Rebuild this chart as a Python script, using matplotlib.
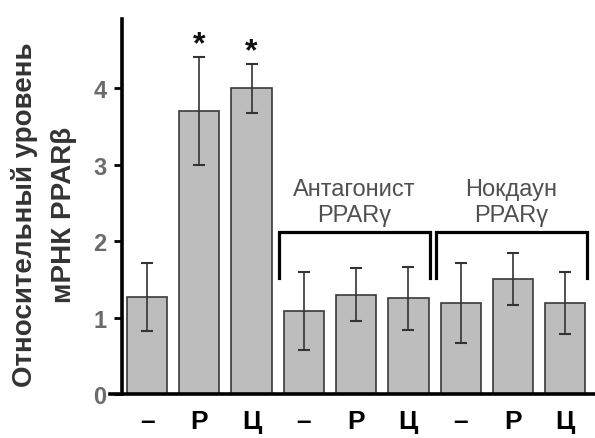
import matplotlib.pyplot as plt
import numpy as np

plt.rcParams['font.family'] = ['Liberation Sans', 'DejaVu Sans']

# values
labels = ["–", "Р", "Ц", "–", "Р", "Ц", "–", "Р", "Ц"]
means = [1.27, 3.70, 4.00, 1.09, 1.30, 1.25, 1.19, 1.50, 1.19]
errors = [0.45, 0.71, 0.32, 0.51, 0.35, 0.41, 0.52, 0.34, 0.41]
starred = [1, 2]
groups = ["Антагонист\nPPARγ", "Нокдаун\nPPARγ"]
group_members = [(3, 5), (6, 8)]
bracket_top = 2.12
bracket_bottom = 1.52

fig = plt.figure(figsize=(5.95, 4.39), dpi=100)
ax = fig.add_axes([0.205, 0.100, 0.795, 0.854])

x = np.arange(len(means))
ax.bar(x, means, width=0.77, color="#bdbdbd", edgecolor="#3a3a3a", linewidth=1.2,
       yerr=errors, capsize=4.5,
       error_kw=dict(ecolor="#333333", elinewidth=1.2, capthick=1.5))

for i in starred:
    ax.text(x[i], means[i] + errors[i] + 0.16, "*", ha="center", va="center",
            fontsize=23, fontweight="bold", color="#111111")

for (a, b), name in zip(group_members, groups):
    xa, xb = x[a] - 0.48, x[b] + 0.41
    ax.plot([xa, xa, xb, xb], [bracket_bottom, bracket_top, bracket_top, bracket_bottom],
            color="black", lw=2.3, solid_joinstyle="miter", clip_on=False)
    ax.text((xa + xb) / 2, bracket_top + 0.08, name, ha="center", va="bottom",
            fontsize=17, color="#505050", linespacing=1.2)

ax.set_xlim(-0.48, 8.57)
ax.set_ylim(0, 4.9)
ax.set_yticks([0, 1, 2, 3, 4])
ax.set_xticks(x)
ax.set_xticklabels(labels, fontsize=19, fontweight="bold")
ax.tick_params(axis="x", length=0, pad=11)
ax.tick_params(axis="y", direction="out", length=6, width=2, pad=5,
               labelsize=17, labelcolor="#6a6a6a")
for lab in ax.get_yticklabels():
    lab.set_fontweight("bold")

for side in ["top", "right"]:
    ax.spines[side].set_visible(False)
for side in ["left", "bottom"]:
    ax.spines[side].set_linewidth(2.6)
ax.spines["bottom"].set_bounds(-0.7, 8.57)

fig.text(0.042, 0.51, "Относительный уровень", rotation=90, ha="center", va="center",
         fontsize=20, fontweight="bold", color="#333333")
fig.text(0.108, 0.51, "мРНК PPARβ", rotation=90, ha="center", va="center",
         fontsize=20, fontweight="bold", color="#333333")

fig.savefig("out.png", dpi=100)
